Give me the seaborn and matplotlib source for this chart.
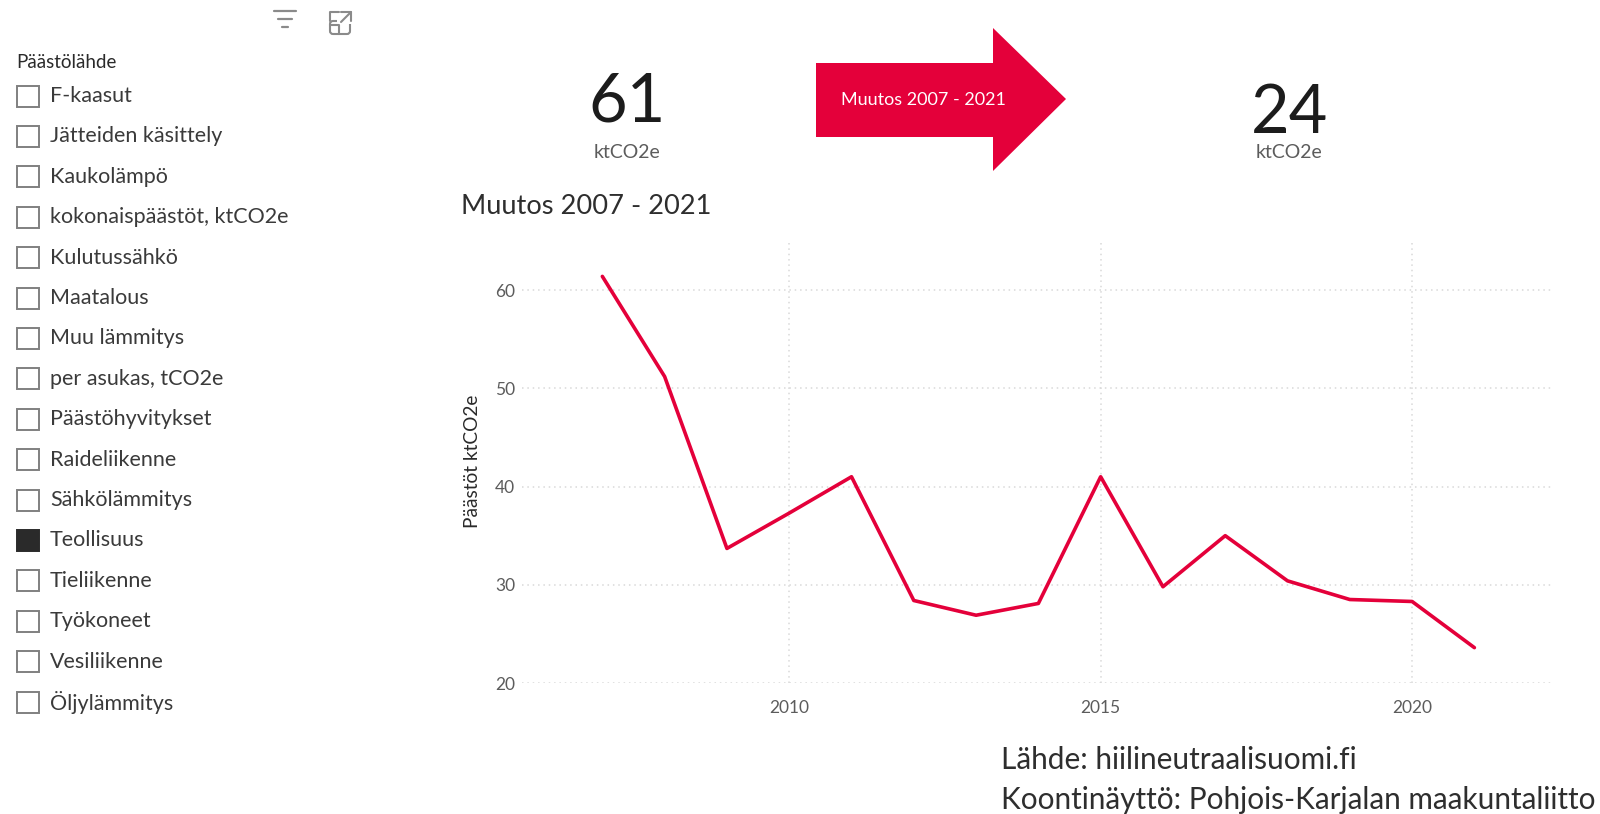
import matplotlib
matplotlib.use("Agg")
import matplotlib.pyplot as plt
from matplotlib.patches import Polygon, Rectangle, FancyBboxPatch
import pandas as pd
import seaborn as sns

# Emissions by year for the selected source
years = [2007, 2008, 2009, 2010, 2011, 2012, 2013, 2014, 2015, 2016, 2017, 2018, 2019, 2020, 2021]
emissions = [61.4, 51.2, 33.7, 37.3, 41.0, 28.4, 26.9, 28.1, 41.0, 29.8, 35.0, 30.4, 28.5, 28.3, 23.6]

y_ticks = [20, 30, 40, 50, 60]
x_ticks = [2010, 2015, 2020]

# Filter list
sources = ["F-kaasut", "Jätteiden käsittely", "Kaukolämpö", "kokonaispäästöt, ktCO2e",
           "Kulutussähkö", "Maatalous", "Muu lämmitys", "per asukas, tCO2e",
           "Päästöhyvitykset", "Raideliikenne", "Sähkölämmitys", "Teollisuus",
           "Tieliikenne", "Työkoneet", "Vesiliikenne", "Öljylämmitys"]
selected_source = "Teollisuus"

start_value = "61"
end_value = "24"
unit = "ktCO2e"
change_title = "Muutos 2007 - 2021"
y_title = "Päästöt ktCO2e"
credits = ["Lähde: hiilineutraalisuomi.fi", "Koontinäyttö: Pohjois-Karjalan maakuntaliitto"]

RED = "#E4003A"
DARK = "#2a2a2a"
GREY = "#5c5c5c"
W, H = 1600, 814

sns.set_theme(style="white")
plt.rcParams["font.family"] = ["Lato", "DejaVu Sans"]

fig = plt.figure(figsize=(W / 100, H / 100), dpi=100, facecolor="white")

# Line chart
ax = fig.add_axes([522 / W, 1 - 683 / H, (1551 - 522) / W, (683 - 243) / H])
df = pd.DataFrame({"year": years, "emissions": emissions})
sns.lineplot(data=df, x="year", y="emissions", color=RED, linewidth=2.6, ax=ax, errorbar=None)
ax.set_xlim(2005.71, 2022.23)
ax.set_ylim(20, 64.8)
ax.set_xticks(x_ticks)
ax.set_yticks(y_ticks)
ax.set_xlabel("")
ax.set_ylabel("")
ax.grid(True, color="#d9d9d9", linestyle=(0, (1, 2.5)), linewidth=1.1)
ax.set_axisbelow(True)
ax.tick_params(axis="both", length=0, labelsize=12.5, labelcolor=GREY)
ax.tick_params(axis="x", pad=12)
ax.tick_params(axis="y", pad=5)
sns.despine(ax=ax, left=True, bottom=True)
for label in ax.get_yticklabels() + ax.get_xticklabels():
    label.set_clip_on(False)

# Overlay in pixel coordinates for the dashboard furniture
ov = fig.add_axes([0, 0, 1, 1], facecolor="none")
ov.set_xlim(0, W)
ov.set_ylim(H, 0)
ov.axis("off")

# Toolbar icons
for y, x0, x1 in [(11, 274, 296), (19, 278, 292), (27, 282, 288)]:
    ov.plot([x0, x1], [y, y], color="#8a8a8a", lw=1.6, solid_capstyle="round")
ov.add_patch(FancyBboxPatch((330, 21), 20, 13, boxstyle="round,pad=0,rounding_size=3",
                            fc="none", ec="#8a8a8a", lw=1.5))
ov.add_patch(Rectangle((337, 10), 16, 14, fc="white", ec="none", zorder=2))
ov.plot([330, 330, 339], [21, 12, 12], color="#8a8a8a", lw=1.5, zorder=3)
ov.plot([341, 351, 351], [12, 12, 21], color="#8a8a8a", lw=1.5, zorder=3)
ov.plot([341, 351], [22, 12], color="#8a8a8a", lw=1.5, zorder=3)
ov.plot([330, 339, 339], [25, 25, 34], color="#8a8a8a", lw=1.5, zorder=3)

# Source filter
ov.text(16, 63, "Päästölähde", fontsize=13.5, color=DARK, va="center", ha="left")
for i, name in enumerate(sources):
    y = 96 + i * 40.4
    chosen = name == selected_source
    ov.add_patch(Rectangle((17, y - 10.5), 22, 21, fc=DARK if chosen else "white",
                           ec=DARK if chosen else "#808080", lw=1.4))
    ov.text(50, y, name, fontsize=15.5, color="#3a3a3a", va="center", ha="left")

# Change arrow and headline figures
ov.add_patch(Polygon([(816, 63), (993, 63), (993, 28), (1066, 99),
                      (993, 171), (993, 137), (816, 137)], closed=True, fc=RED, ec="none"))
ov.text(923, 100, change_title, fontsize=13, color="white", va="center", ha="center")
ov.text(627, 102, start_value, fontsize=48, color="#1c1c1c", va="center", ha="center")
ov.text(1290, 114, end_value, fontsize=48, color="#1c1c1c", va="center", ha="center")
ov.text(627, 153, unit, fontsize=14, color=GREY, va="center", ha="center")
ov.text(1289, 153, unit, fontsize=14, color=GREY, va="center", ha="center")

# Chart heading and axis title
ov.text(461, 206, change_title, fontsize=19.6, color="#2e2e2e", va="center", ha="left")
ov.text(472, 461, y_title, fontsize=13.8, color=DARK, rotation=90, va="center", ha="center")

# Credits
ov.text(1001, 760, credits[0], fontsize=21.4, color="#2e2e2e", va="center", ha="left")
ov.text(1001, 800, credits[1], fontsize=21.4, color="#2e2e2e", va="center", ha="left")

fig.savefig("out.png", dpi=100, facecolor="white")
